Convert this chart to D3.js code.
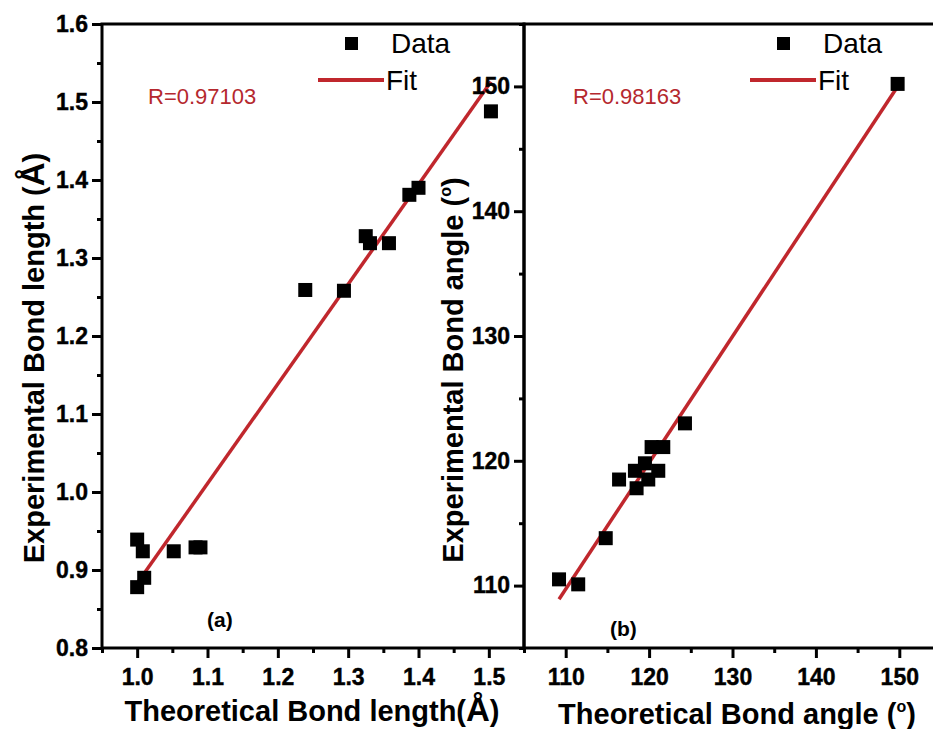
<!DOCTYPE html>
<html>
<head>
<meta charset="utf-8">
<script src="https://cdn.jsdelivr.net/npm/d3@7"></script>
<style>
body { margin: 0; background: #fff; }
svg { display: block; font-family: "Liberation Sans", Arial, sans-serif; }
</style>
</head>
<body>
<svg id="chart" width="933" height="729"></svg>
<script>
// (a) bond length, Angstrom
var lenTheo = [1.000, 1.008, 1.000, 1.010, 1.052, 1.083, 1.090, 1.239, 1.294, 1.325, 1.331, 1.358, 1.387, 1.400, 1.503];
var lenExp  = [0.939, 0.924, 0.878, 0.890, 0.924, 0.929, 0.929, 1.259, 1.258, 1.328, 1.319, 1.319, 1.381, 1.390, 1.488];
var lenFit  = [1.278, -0.395];   // slope, intercept
var lenR    = "R=0.97103";
var lenXTicks = [1.0, 1.1, 1.2, 1.3, 1.4, 1.5];
var lenXMinor = [0.95, 1.05, 1.15, 1.25, 1.35, 1.45, 1.55];
var lenYTicks = [0.8, 0.9, 1.0, 1.1, 1.2, 1.3, 1.4, 1.5, 1.6];
var lenYMinor = [0.85, 0.95, 1.05, 1.15, 1.25, 1.35, 1.45, 1.55];

// (b) bond angle, degrees
var angTheo = [109.2, 111.5, 114.8, 116.4, 118.3, 118.5, 119.5, 119.9, 120.3, 121.1, 121.7, 124.3, 149.8];
var angExp  = [110.5, 110.1, 113.8, 118.5, 119.2, 117.8, 119.8, 118.5, 121.1, 119.2, 121.1, 123.0, 150.2];
var angFit  = [1.012, -1.6];
var angR    = "R=0.98163";
var angXTicks = [110, 120, 130, 140, 150];
var angXMinor = [105, 115, 125, 135, 145, 155];
var angYTicks = [110, 120, 130, 140, 150];
var angYMinor = [105, 115, 125, 135, 145, 155];

var svg = d3.select("#chart"),
	red = "#c0272d",
	top0 = 24, bot0 = 648;

function panel(o) {
	var x = d3.scaleLinear().domain(o.xd).range([o.x0, o.x1]),
		y = d3.scaleLinear().domain(o.yd).range([bot0, top0]),
		g = svg.append("g");

	// major + minor ticks
	var ax = g.append("g").attr("transform", "translate(0," + bot0 + ")")
		.call(d3.axisBottom(x).tickValues(o.xt).tickSize(10).tickPadding(5).tickFormat(o.xf));
	g.append("g").attr("transform", "translate(0," + bot0 + ")")
		.call(d3.axisBottom(x).tickValues(o.xm).tickSize(5).tickFormat(""));
	var ay = g.append("g").attr("transform", "translate(" + o.x0 + ",0)")
		.call(d3.axisLeft(y).tickValues(o.yt).tickSize(10).tickPadding(4).tickFormat(o.yf));
	g.append("g").attr("transform", "translate(" + o.x0 + ",0)")
		.call(d3.axisLeft(y).tickValues(o.ym).tickSize(5).tickFormat(""));
	g.selectAll(".domain").remove();
	g.selectAll("g").attr("font-size", null).attr("font-family", null);
	g.selectAll(".tick line").attr("stroke", "#000").attr("stroke-width", 3);
	g.selectAll(".tick text")
		.style("font-family", "'Liberation Sans', Arial, sans-serif")
		.style("font-size", "23px").style("font-weight", "bold")
		.style("fill", "#000").style("stroke", "#000").style("stroke-width", "0.4px");
	ax.selectAll(".tick text").attr("dy", "0.95em");

	// frame
	g.append("rect").attr("x", o.x0).attr("y", top0)
		.attr("width", o.x1 - o.x0).attr("height", bot0 - top0)
		.attr("fill", "none").attr("stroke", "#000").attr("stroke-width", 3);

	// fit line over the data span
	var ext = d3.extent(o.tx);
	g.append("line")
		.attr("x1", x(ext[0])).attr("y1", y(o.fit[0] * ext[0] + o.fit[1]))
		.attr("x2", x(ext[1])).attr("y2", y(o.fit[0] * ext[1] + o.fit[1]))
		.attr("stroke", red).attr("stroke-width", 3.5);

	g.selectAll(".pt").data(o.tx).enter().append("rect")
		.attr("x", function(d){ return x(d) - 7; })
		.attr("y", function(d, i){ return y(o.ey[i]) - 7; })
		.attr("width", 14).attr("height", 14).attr("fill", "#000");

	// legend
	var lx = o.legX;
	g.append("rect").attr("x", lx + 27).attr("y", 37).attr("width", 13).attr("height", 13).attr("fill", "#000");
	g.append("text").attr("x", lx + 73).attr("y", 53).attr("font-size", 28).text("Data");
	g.append("line").attr("x1", lx).attr("x2", lx + 66).attr("y1", 80).attr("y2", 80)
		.attr("stroke", red).attr("stroke-width", 4);
	g.append("text").attr("x", lx + 68).attr("y", 90).attr("font-size", 28).text("Fit");

	g.append("text").attr("x", o.rX).attr("y", 104).attr("font-size", 22)
		.attr("fill", "#b5282e").text(o.r);
	g.append("text").attr("x", o.labX).attr("y", o.labY).attr("font-size", 21)
		.attr("font-weight", "bold").text(o.lab);
	return g;
}

var ga = panel({ xd: [0.95, 1.55], yd: [0.8, 1.6], x0: 102, x1: 524,
	xt: lenXTicks, xm: lenXMinor, yt: lenYTicks, ym: lenYMinor,
	xf: d3.format(".1f"), yf: d3.format(".1f"),
	tx: lenTheo, ey: lenExp, fit: lenFit, r: lenR,
	legX: 318, rX: 148, lab: "(a)", labX: 207, labY: 627 });

var gb = panel({ xd: [105, 155], yd: [105, 155], x0: 524, x1: 941,
	xt: angXTicks, xm: angXMinor, yt: angYTicks, ym: angYMinor,
	xf: d3.format("d"), yf: d3.format("d"),
	tx: angTheo, ey: angExp, fit: angFit, r: angR,
	legX: 750, rX: 573, lab: "(b)", labX: 610, labY: 636 });

// axis titles
function title(x, y, rot) {
	return svg.append("text")
		.attr("transform", "translate(" + x + "," + y + ")" + (rot ? " rotate(-90)" : ""))
		.attr("text-anchor", "middle").attr("font-weight", "bold").attr("font-size", 29);
}
var t1 = title(312, 721, false);
t1.append("tspan").text("Theoretical Bond length(");
t1.append("tspan").attr("font-size", 33).text("Å");
t1.append("tspan").text(")");

var t2 = title(737, 724, false);
t2.append("tspan").text("Theoretical Bond angle (");
t2.append("tspan").attr("font-size", 16).attr("dy", -12).text("o");
t2.append("tspan").attr("dy", 12).text(")");

var t3 = title(44, 358, true);
t3.append("tspan").text("Experimental Bond length (");
t3.append("tspan").attr("font-size", 33).text("Å");
t3.append("tspan").text(")");

var t4 = title(463, 370, true);
t4.append("tspan").text("Experimental Bond angle (");
t4.append("tspan").attr("font-size", 16).attr("dy", -12).text("o");
t4.append("tspan").attr("dy", 12).text(")");
</script>
</body>
</html>
